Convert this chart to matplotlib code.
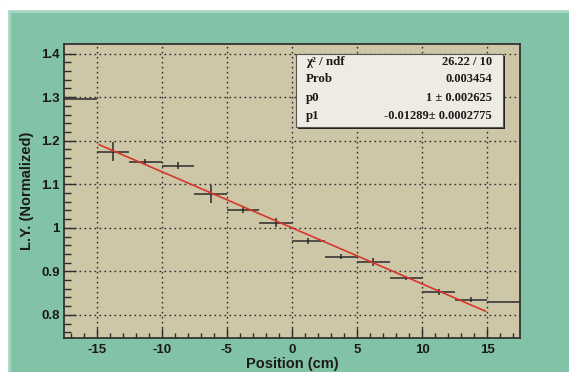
import matplotlib
matplotlib.use("Agg")
import matplotlib.pyplot as plt
from matplotlib.patches import Rectangle
import numpy as np

plt.rcParams["axes.unicode_minus"] = False

# histogram bins (cm) and normalized light yield
bin_width = 2.5
centers = [-13.75, -11.25, -8.75, -6.25, -3.75, -1.25, 1.25, 3.75, 6.25, 8.75, 11.25, 13.75]
ly = [1.175, 1.152, 1.143, 1.077, 1.042, 1.012, 0.970, 0.934, 0.921, 0.885, 0.852, 0.835]
ly_err = [0.021, 0.007, 0.009, 0.021, 0.008, 0.011, 0.007, 0.006, 0.009, 0.005, 0.007, 0.005]
# outer bins drawn without error bars
edge_centers = [-16.25, 16.25]
edge_ly = [1.295, 0.830]

# linear fit result
p0 = 1.0
p1 = -0.01289
fit_lo, fit_hi = -14.8, 14.85

stat_names = ["\u03c7\u00b2 / ndf", "Prob", "p0", "p1"]
stat_vals = ["26.22 / 10", "0.003454", "1 \u00b1 0.002625", "-0.01289\u00b1 0.0002775"]

green = "#82c3a7"
tan = "#cec7a7"
ink = "#2b2b2b"

fig = plt.figure(figsize=(5.69, 3.72), dpi=100, facecolor=green)
# white strip + light bevel of the original canvas (top and left)
fig.patches.append(Rectangle((0, 1 - 11.5/372), 1, 11.5/372, transform=fig.transFigure, color="#a5d4bf", zorder=-2))
fig.patches.append(Rectangle((0, 0), 9.5/569, 1, transform=fig.transFigure, color="#a5d4bf", zorder=-2))
fig.patches.append(Rectangle((0, 1 - 8.5/372), 1, 8.5/372, transform=fig.transFigure, color="white", zorder=-1))
fig.patches.append(Rectangle((0, 0), 6.5/569, 1, transform=fig.transFigure, color="white", zorder=-1))

ax = fig.add_axes([64/569, 1 - 338/372, 456/569, 294/372])
ax.set_facecolor(tan)

ax.set_xlim(-17.5, 17.5)
ax.set_ylim(0.747, 1.422)

ax.set_xticks(np.arange(-15, 16, 5))
ax.set_xticks(np.arange(-17, 18, 1), minor=True)
ax.set_yticks([0.8, 0.9, 1.0, 1.1, 1.2, 1.3, 1.4])
ax.set_yticklabels(["0.8", "0.9", "1", "1.1", "1.2", "1.3", "1.4"])
ax.set_yticks(np.arange(0.76, 1.42, 0.02), minor=True)

ax.grid(True, which="major", color=ink, linestyle=(0, (1.2, 2.4)), linewidth=1.0)
ax.set_axisbelow(True)

ax.tick_params(axis="x", which="major", direction="in", length=7, width=1, color=ink, pad=4, top=False)
ax.tick_params(axis="x", which="minor", direction="in", length=3.6, width=1, color=ink, top=False)
ax.tick_params(axis="y", which="major", direction="in", length=8.6, width=1, color=ink, pad=3, right=False)
ax.tick_params(axis="y", which="minor", direction="in", length=5, width=1, color=ink, right=False)
for lab in ax.get_xticklabels() + ax.get_yticklabels():
    lab.set_fontfamily("Liberation Sans")
    lab.set_fontweight("bold")
    lab.set_fontsize(9.5)
    lab.set_color("#1a1a1a")

for sp in ax.spines.values():
    sp.set_color("#333333")
    sp.set_linewidth(1.3)

# data points with bin-width bars
ax.errorbar(centers, ly, xerr=bin_width / 2, yerr=ly_err, fmt="none",
            ecolor=ink, elinewidth=1.1, capsize=0, zorder=3)
ax.hlines(edge_ly, np.array(edge_centers) - bin_width / 2, np.array(edge_centers) + bin_width / 2,
          color=ink, linewidth=1.1, zorder=3)

# fit line
xf = np.array([fit_lo, fit_hi])
ax.plot(xf, p0 + p1 * xf, color="#d8352c", linewidth=1.2, zorder=4)

ax.set_xlabel("Position (cm)", fontfamily="Liberation Sans", fontweight="bold", fontsize=10.5, labelpad=1, color="#1a1a1a")
ax.set_ylabel("L.Y. (Normalized)", fontfamily="Liberation Sans", fontweight="bold", fontsize=10.5, labelpad=5, color="#1a1a1a")

# stats box
bx0, bx1 = (296 - 64) / 456, (503 - 64) / 456
by0, by1 = 1 - (127 - 44) / 294, 1 - (53.5 - 44) / 294
ax.add_patch(Rectangle((bx0 + 0.004, by0 - 0.008), bx1 - bx0, by1 - by0, transform=ax.transAxes,
                       facecolor="#222222", edgecolor="none", zorder=5))
ax.add_patch(Rectangle((bx0, by0), bx1 - bx0, by1 - by0, transform=ax.transAxes,
                       facecolor="#eeece2", edgecolor="#555555", linewidth=0.8, zorder=6))
row_y = [0.940, 0.881, 0.818, 0.756]
for name, val, yy in zip(stat_names, stat_vals, row_y):
    ax.text(0.531, yy, name, transform=ax.transAxes, ha="left", va="center",
            fontfamily="Liberation Serif", fontweight="bold", fontsize=9.3, color="#1a1a1a", zorder=7)
    ax.text(0.939, yy, val, transform=ax.transAxes, ha="right", va="center",
            fontfamily="Liberation Serif", fontweight="bold", fontsize=9.0, color="#1a1a1a", zorder=7)

fig.savefig("out.png", dpi=100, facecolor=green)
